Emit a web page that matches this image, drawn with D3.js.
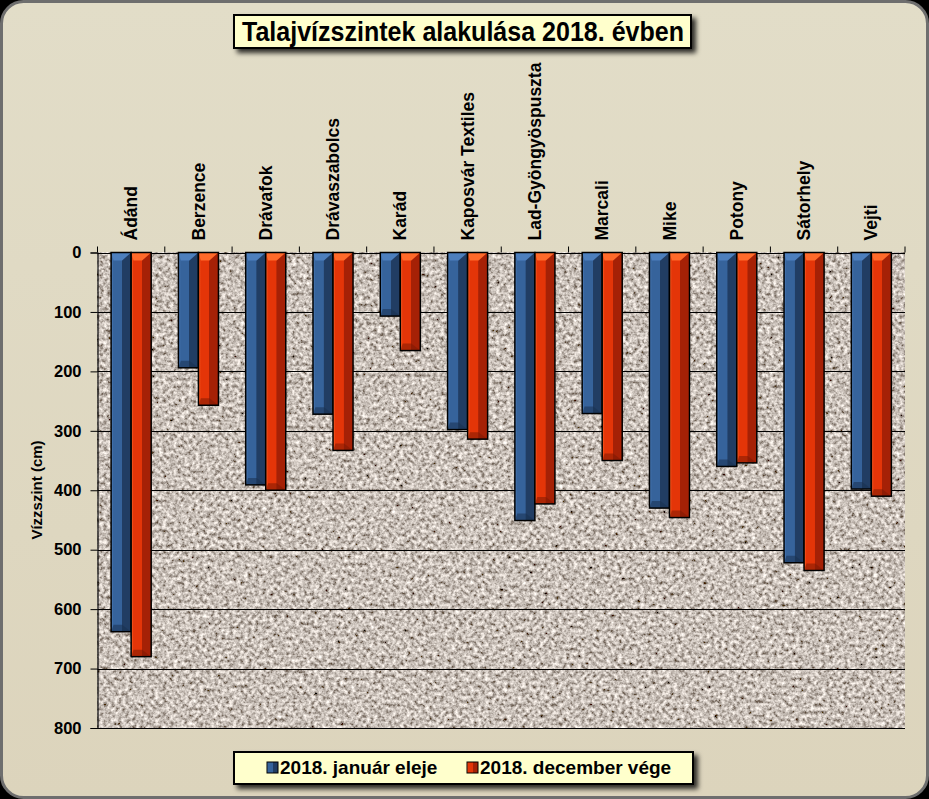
<!DOCTYPE html>
<html>
<head>
<meta charset="utf-8">
<script src="https://cdn.jsdelivr.net/npm/d3@7"></script>
<style>
  html, body { margin: 0; padding: 0; background: #000; }
  svg { display: block; }
  text { font-family: "Liberation Sans", Arial, sans-serif; }
</style>
</head>
<body>
<svg id="chart"></svg>
<script>
const categories = ["Ádánd", "Berzence", "Drávafok", "Drávaszabolcs", "Karád", "Kaposvár Textiles",
  "Lad-Gyöngyöspuszta", "Marcali", "Mike", "Potony", "Sátorhely", "Vejti"];
const seriesNames = ["2018. január eleje", "2018. december vége"];
const januar = [638, 194, 391, 272, 107, 298, 451, 271, 430, 360, 522, 398];
const december = [680, 257, 400, 333, 165, 314, 423, 350, 446, 354, 535, 410];
const yTicks = [0, 100, 200, 300, 400, 500, 600, 700, 800];

const W = 929, H = 799;
const plotLeft = 97.5, plotRight = 905, plotTop = 252.5, plotBottom = 728;

const svg = d3.select("#chart").attr("width", W).attr("height", H);
const defs = svg.append("defs");

// background gradient of the chart frame
const bg = defs.append("linearGradient").attr("id", "bg").attr("x1", 0).attr("y1", 0).attr("x2", 0).attr("y2", 1);
bg.append("stop").attr("offset", "0%").attr("stop-color", "#e2ddc8");
bg.append("stop").attr("offset", "100%").attr("stop-color", "#dcd4bc");

// granite texture for the plot area
const granite = defs.append("filter").attr("id", "granite")
  .attr("x", 0).attr("y", 0).attr("width", 1).attr("height", 1);
granite.append("feTurbulence").attr("type", "fractalNoise").attr("baseFrequency", 0.27)
  .attr("numOctaves", 3).attr("seed", 7).attr("result", "n");
granite.append("feColorMatrix").attr("in", "n").attr("type", "matrix")
  .attr("values", "1.5 0 0 0 -0.17  1.45 0 0 0 -0.20  1.4 0 0 0 -0.22  0 0 0 0 1");

const shadow = defs.append("filter").attr("id", "shadow")
  .attr("x", "-10%").attr("y", "-30%").attr("width", "130%").attr("height", "180%");
shadow.append("feDropShadow").attr("dx", 4).attr("dy", 4).attr("stdDeviation", 2.5)
  .attr("flood-color", "#000").attr("flood-opacity", 0.8);

// bar gradients (light face on the left, dark side on the right)
const barColors = [
  { id: "gBlue", light: "#36639b", dark: "#213d63", top: "#4d7fbd", bot: "#1a3150" },
  { id: "gRed", light: "#e43508", dark: "#a52106", top: "#ff6a2a", bot: "#7e1904" }
];
barColors.forEach(c => {
  const g = defs.append("linearGradient").attr("id", c.id).attr("x1", 0).attr("x2", 1).attr("y1", 0).attr("y2", 0);
  g.append("stop").attr("offset", "0%").attr("stop-color", c.top);
  g.append("stop").attr("offset", "12%").attr("stop-color", c.light);
  g.append("stop").attr("offset", "52%").attr("stop-color", c.light);
  g.append("stop").attr("offset", "55%").attr("stop-color", c.dark);
  g.append("stop").attr("offset", "100%").attr("stop-color", c.dark);
});

// outer frame
svg.append("rect")
  .attr("x", 1.5).attr("y", 1.5).attr("width", W - 3).attr("height", H - 3)
  .attr("rx", 22).attr("fill", "url(#bg)").attr("stroke", "#6e6e6e").attr("stroke-width", 3);

const x = d3.scaleBand().domain(categories).range([plotLeft, plotRight]).padding(0);
const xs = d3.scaleBand().domain(seriesNames).range([0, x.bandwidth()]).paddingInner(0).paddingOuter(0.68);
const y = d3.scaleLinear().domain([0, 800]).range([plotTop, plotBottom]);

// plot area
svg.append("rect")
  .attr("x", plotLeft).attr("y", plotTop).attr("width", plotRight - plotLeft).attr("height", plotBottom - plotTop)
  .attr("filter", "url(#granite)");

// gridlines
svg.append("g").selectAll("line").data(yTicks).enter().append("line")
  .attr("x1", plotLeft).attr("x2", plotRight)
  .attr("y1", d => Math.round(y(d)) + 0.5).attr("y2", d => Math.round(y(d)) + 0.5)
  .attr("stroke", "#000").attr("stroke-width", 1);

// bars
const rows = categories.map((c, i) => ({ cat: c, values: [januar[i], december[i]] }));
const groups = svg.append("g").selectAll("g").data(rows).enter().append("g")
  .attr("transform", d => `translate(${x(d.cat)},0)`);

groups.selectAll("g.bar").data(d => d.values.map((v, j) => ({ name: seriesNames[j], v, c: barColors[j] })))
  .enter().append("g").attr("class", "bar")
  .each(function (d) {
    const g = d3.select(this);
    const x0 = xs(d.name), w = xs.bandwidth();
    const y0 = y(0), y1 = y(d.v);
    g.append("rect").attr("x", x0).attr("y", y0).attr("width", w).attr("height", y1 - y0)
      .attr("fill", `url(#${d.c.id})`);
    // bevel on top
    g.append("path")
      .attr("d", `M${x0},${y0} L${x0 + w},${y0} L${x0 + w * 0.55},${y0 + 8} L${x0 + w * 0.12},${y0 + 8} Z`)
      .attr("fill", d.c.top);
    // bevel on bottom
    g.append("path")
      .attr("d", `M${x0 + w * 0.12},${y1 - 7} L${x0 + w * 0.55},${y1 - 7} L${x0 + w},${y1} L${x0},${y1} Z`)
      .attr("fill", d.c.bot).attr("opacity", 0.55);
    g.append("rect").attr("x", x0).attr("y", y0).attr("width", w).attr("height", y1 - y0)
      .attr("fill", "none").attr("stroke", "#000").attr("stroke-width", 1.5);
  });

// y axis
const yAxis = d3.axisLeft(y).tickValues(yTicks).tickSize(7).tickPadding(9);
const ya = svg.append("g").attr("transform", `translate(${plotLeft},0)`).call(yAxis);
ya.select(".domain").attr("stroke", "#000").attr("stroke-width", 1.2);
ya.selectAll(".tick line").attr("stroke", "#000");
ya.selectAll(".tick text").attr("font-size", 16.5).attr("font-weight", "bold")
  .attr("font-family", "'Liberation Sans', Arial, sans-serif").attr("fill", "#000");

// category axis on top
const xAxis = d3.axisTop(x).tickSize(0).tickPadding(12);
const xa = svg.append("g").attr("transform", `translate(0,${plotTop})`).call(xAxis);
xa.select(".domain").remove();
xa.selectAll(".tick text")
  .attr("font-size", 17.5).attr("font-weight", "bold").attr("font-family", "'Liberation Sans', Arial, sans-serif")
  .attr("fill", "#000")
  .attr("transform", "rotate(-90)")
  .attr("text-anchor", "start").attr("x", 12).attr("y", 0).attr("dy", "0.35em");
svg.append("g").selectAll("line").data(categories.concat(["end"])).enter().append("line")
  .attr("x1", (d, i) => plotLeft + i * x.step()).attr("x2", (d, i) => plotLeft + i * x.step())
  .attr("y1", plotTop - 6).attr("y2", plotTop).attr("stroke", "#000");

// y axis title
svg.append("text")
  .attr("transform", "rotate(-90)")
  .attr("x", -490).attr("y", 42)
  .attr("text-anchor", "middle")
  .attr("font-size", 15).attr("font-weight", "bold")
  .text("Vízzszint (cm)");

// title
svg.append("rect").attr("x", 234).attr("y", 15).attr("width", 457).attr("height", 33)
  .attr("fill", "#ffffcc").attr("stroke", "#000").attr("stroke-width", 2).attr("filter", "url(#shadow)");
svg.append("text").attr("x", 242).attr("y", 41)
  .attr("font-family", "'Liberation Sans Narrow', 'Arial Narrow', sans-serif")
  .attr("font-size", 27).attr("font-weight", "bold")
  .attr("textLength", 442).attr("lengthAdjust", "spacingAndGlyphs")
  .text("Talajvízszintek alakulása 2018. évben");

// legend
svg.append("rect").attr("x", 234).attr("y", 752).attr("width", 459).attr("height", 32)
  .attr("fill", "#ffffcc").attr("stroke", "#000").attr("stroke-width", 2).attr("filter", "url(#shadow)");
const legendX = [267, 467];
const lg = svg.append("g").selectAll("g").data(seriesNames).enter().append("g")
  .attr("transform", (d, i) => `translate(${legendX[i]},762)`);
lg.append("rect").attr("width", 11).attr("height", 11)
  .attr("fill", (d, i) => `url(#${barColors[i].id})`).attr("stroke", "#000").attr("stroke-width", 1);
lg.append("text").attr("x", 13).attr("y", 12)
  .attr("font-size", 19).attr("font-weight", "bold").text(d => d);
</script>
</body>
</html>
